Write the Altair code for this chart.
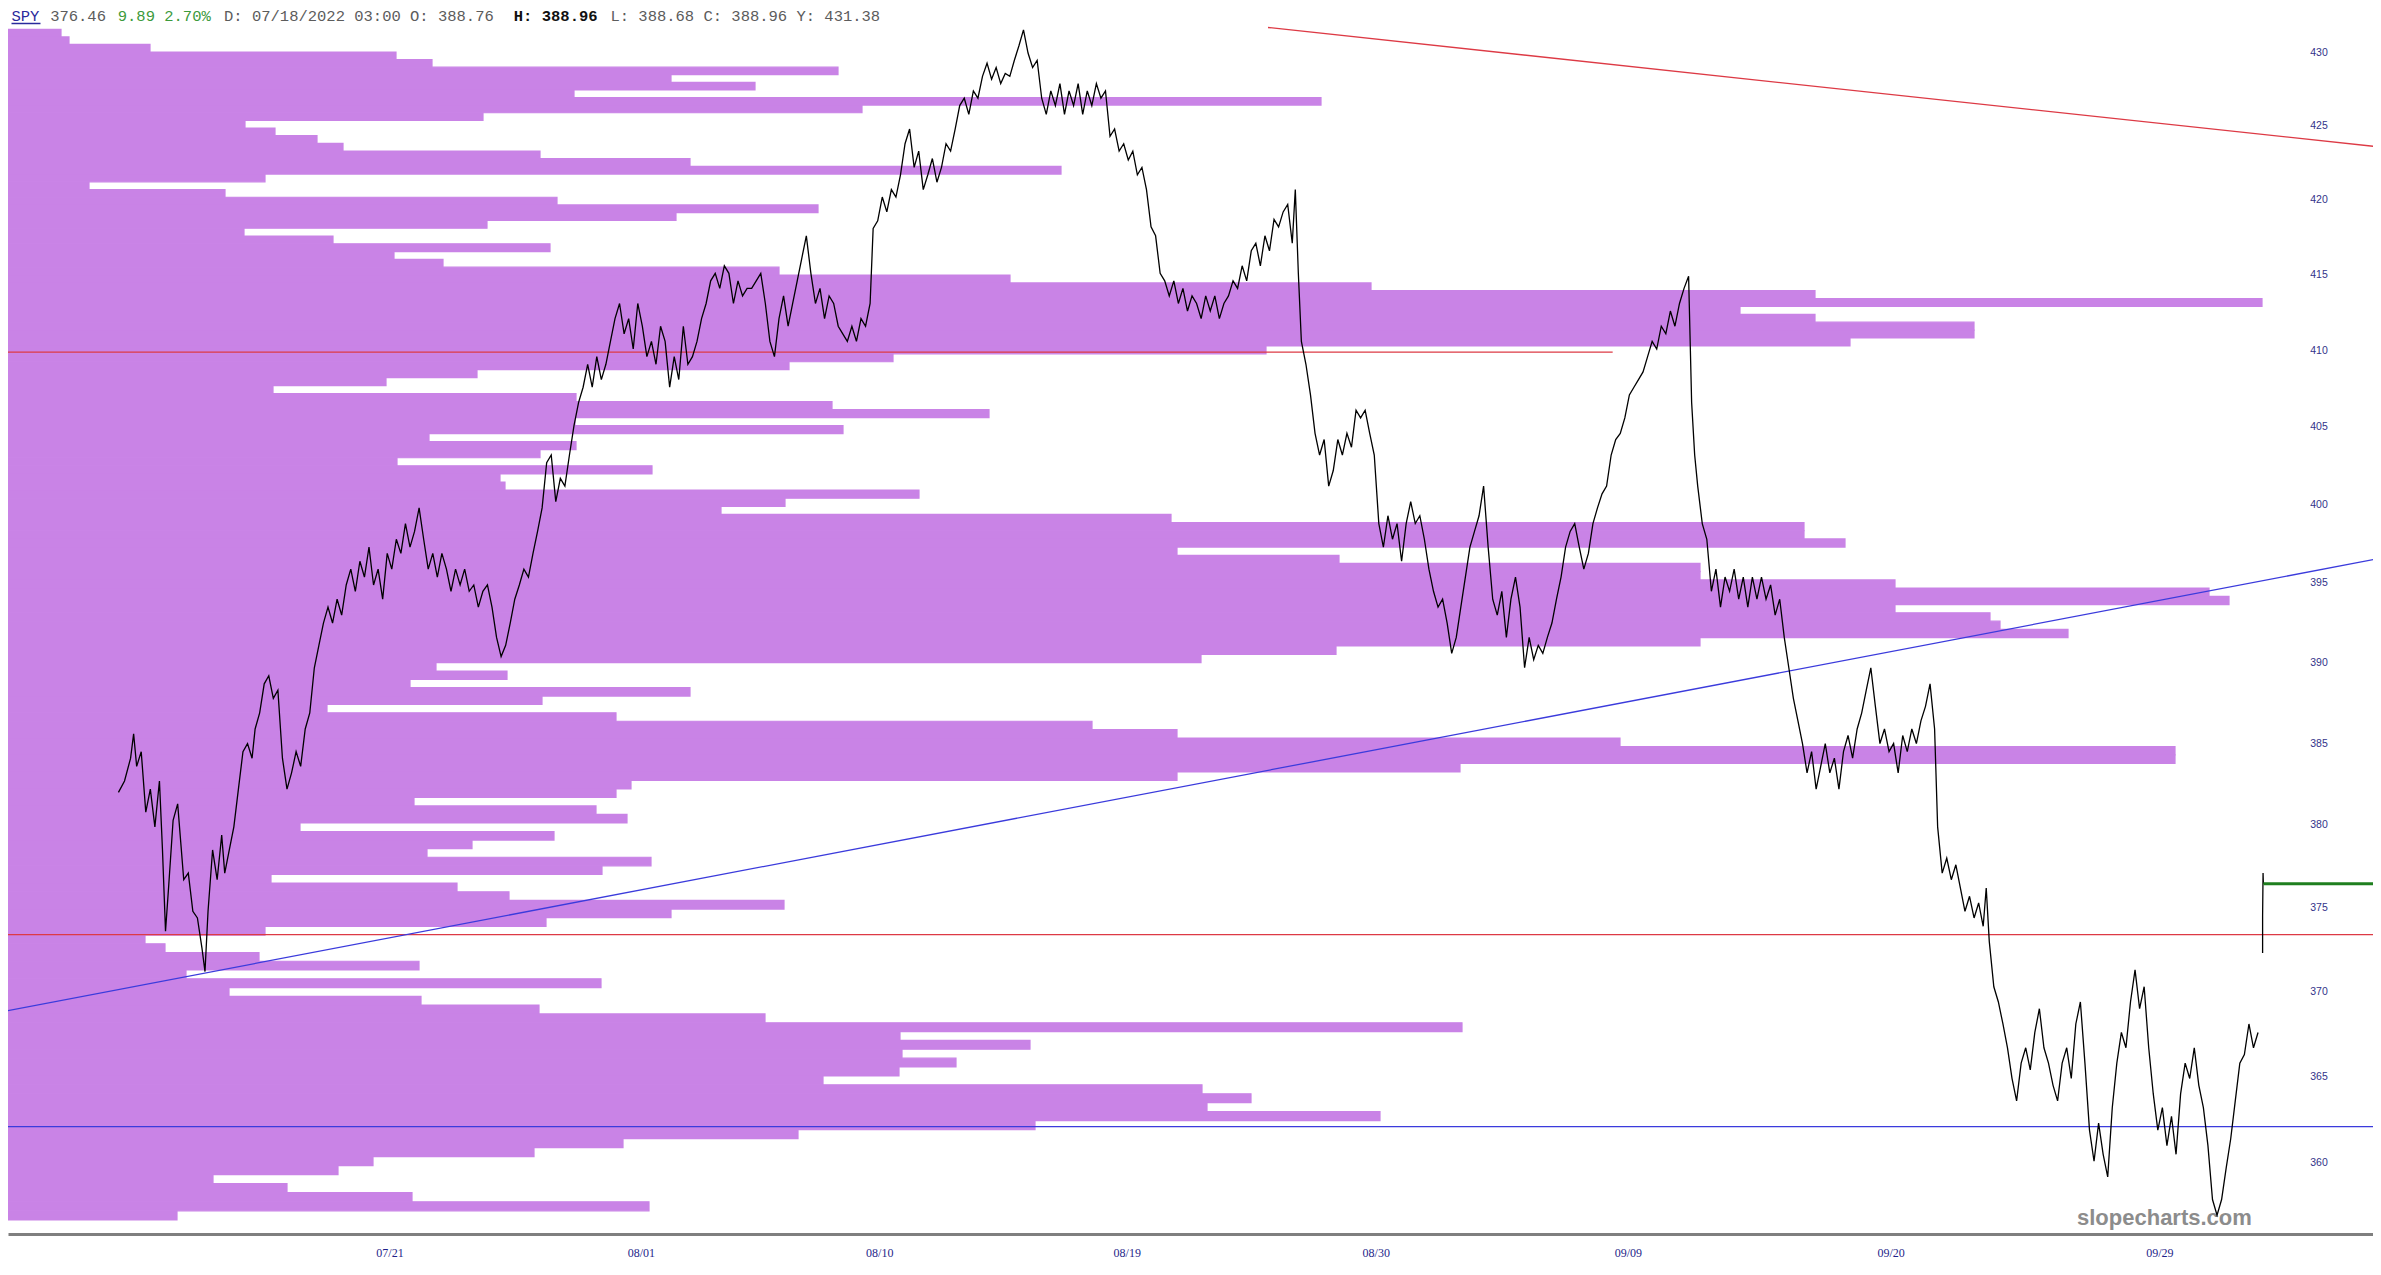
import altair as alt
import pandas as pd
import numpy as np

# ---------------- price series (t = bar position index, p = SPY price) ----------------
tA = [78, 82, 86, 88, 90, 93, 96, 99, 102, 105, 107, 109, 111, 114, 117, 119, 121, 124, 127, 130,
      133, 135, 137, 140, 143, 146, 148, 151, 154, 157, 160, 163, 166, 168, 171, 174, 177, 180, 183, 186,
      189, 192, 195, 198, 201, 204, 207]
pA = [382.0, 382.7, 384.1, 385.6, 383.6, 384.5, 380.8, 382.2, 379.9, 382.7, 378.5, 373.6, 376.2, 380.3, 381.3,
      379.0, 376.7, 377.1, 374.8, 374.4, 372.6, 371.2, 374.8, 378.5, 376.7, 379.4, 377.1, 378.5, 379.9, 382.2,
      384.5, 385.0, 384.1, 385.9, 386.9, 388.7, 389.2, 387.8, 388.3, 384.1, 382.2, 383.2, 384.5, 383.6, 385.9,
      386.9, 389.7]
tB = list(range(210, 574, 3))
pB = [391.1, 392.5, 393.5, 392.5, 394.0, 393.0, 394.9, 395.9, 394.5, 396.4,
      395.4, 397.3, 394.9, 395.9, 394.0, 396.9, 395.9, 397.8, 396.9, 398.8,
      397.3, 398.3, 399.8, 397.8, 395.9, 396.9, 395.4, 396.9, 395.9, 394.5,
      395.9, 394.9, 395.9, 394.5, 394.9, 393.5, 394.5, 394.9, 393.5, 391.6,
      390.4, 391.1, 392.5, 394.0, 394.9, 395.9, 395.4, 396.9, 398.3, 399.8,
      402.7, 403.2, 400.2, 401.7, 401.2, 403.2, 405.1, 406.6, 407.6, 409.1,
      407.6, 409.6, 408.1, 409.1, 410.6, 412.1, 413.1, 411.1, 412.1, 410.1,
      413.1, 411.6, 409.6, 410.6, 409.1, 411.6, 410.6, 407.6, 409.6, 408.1,
      411.6, 409.1, 409.6, 410.6, 412.1, 413.1, 414.6, 415.1, 414.1, 415.6,
      415.1, 413.1, 414.6, 413.6, 414.1, 414.1, 414.6, 415.1, 413.1, 410.6,
      409.6, 412.1, 413.6, 411.6, 413.1, 414.6, 416.1, 417.6, 415.1, 413.1,
      414.1, 412.1, 413.6, 413.1, 411.6, 411.1, 410.6, 411.6, 410.6, 412.1,
      411.6, 413.1]
tC = list(range(575, 852, 3)) + [853, 855, 857]
pC = [418.1, 418.6, 420.2, 419.2, 420.7, 420.2, 421.7, 423.8, 424.8, 422.2,
      423.3, 420.7, 421.7, 422.8, 421.2, 422.2, 423.8, 423.3, 424.8, 426.4,
      426.9, 425.8, 427.4, 426.9, 428.4, 429.3, 428.2, 429.0, 427.9, 428.6,
      428.4, 429.5, 430.5, 431.6, 430.0, 429.0, 429.5, 426.9, 425.8, 427.4,
      426.4, 427.9, 425.8, 427.4, 426.4, 427.9, 425.8, 427.4, 426.4, 427.9,
      426.9, 427.4, 424.3, 424.8, 423.3, 423.8, 422.7, 423.3, 421.7, 422.2,
      420.7, 418.2, 417.6, 415.1, 414.6, 413.6, 414.6, 413.1, 414.1, 412.6,
      413.6, 413.1, 412.1, 413.6, 412.6, 413.6, 412.1, 413.1, 413.6, 414.6,
      414.1, 415.6, 414.6, 416.6, 417.1, 415.6, 417.6, 416.6, 418.7, 418.2,
      419.2, 419.7, 417.1, 420.7, 415.1, 410.6]
tD = list(range(860, 1113, 3)) + [1114, 1116, 1118]
pD = [409.1, 407.1, 404.6, 403.2, 404.2, 401.2, 402.2, 404.2, 403.2, 404.6,
      403.7, 406.1, 405.6, 406.1, 404.6, 403.2, 398.8, 397.3, 399.3, 397.8,
      398.8, 396.4, 398.8, 400.2, 398.8, 399.3, 397.8, 395.9, 394.5, 393.5,
      394.0, 392.5, 390.6, 391.6, 393.5, 395.4, 397.3, 398.3, 399.3, 401.2,
      397.3, 394.0, 393.0, 394.5, 391.6, 394.0, 395.4, 393.5, 389.7, 391.6,
      390.2, 391.1, 390.6, 391.6, 392.5, 394.0, 395.4, 397.3, 398.3, 398.8,
      397.3, 395.9, 396.9, 398.8, 399.8, 400.7, 401.2, 403.2, 404.2, 404.6,
      405.6, 407.1, 407.6, 408.1, 408.6, 409.6, 410.6, 410.1, 411.6, 411.1,
      412.6, 411.6, 413.1, 414.1, 414.9, 406.6, 403.2, 401.2]
tE = list(range(1121, 1275, 3)) + [1276]
pE = [398.8, 397.8, 394.5, 395.9, 393.5, 395.4, 394.5, 395.9, 394.0, 395.4,
      393.5, 395.4, 394.0, 395.4, 394.0, 394.9, 393.0, 394.0, 391.6, 389.7,
      387.8, 386.4, 385.0, 383.2, 384.5, 382.2, 383.6, 385.0, 383.2, 384.1,
      382.2, 384.5, 385.5, 384.1, 385.9, 386.9, 388.3, 389.7, 387.3, 385.0,
      385.9, 384.5, 385.0, 383.2, 385.5, 384.5, 385.9, 385.0, 386.4, 387.3,
      388.7, 385.9, 379.9]
tF = list(range(1279, 1307, 3)) + [1308, 1310]
pF = [377.1, 378.0, 376.7, 377.6, 376.2, 374.8, 375.7, 374.4, 375.3, 373.9, 376.2, 373.0]
tG = list(range(1313, 1488, 3))
pG = [370.3, 369.4, 368.1, 366.7, 364.9, 363.6, 365.8, 366.7, 365.4, 367.6,
      369.0, 366.7, 365.8, 364.5, 363.6, 365.8, 366.7, 364.9, 368.1, 369.4,
      365.8, 361.9, 360.1, 362.3, 360.5, 359.2, 363.2, 365.8, 367.6, 366.7,
      369.4, 371.3, 369.0, 370.3, 366.7, 364.0, 361.9, 363.2, 361.0, 362.7,
      360.5, 364.0, 365.8, 364.9, 366.7, 364.5, 363.2, 361.0, 357.9, 357.0,
      357.9, 359.7, 361.4, 363.6, 365.8, 366.3, 368.1, 366.7, 367.6]
# last (gap-up) bar
tH = [1490, 1490, 1490.3, 1490.5]
pH = [372.3, 374.5, 377.1, 376.46]
LAST_PRICE = 376.46

# ---------------- volume profile (144 equal price bins, top to bottom, relative volume) ----------------
PROF_TOP = 431.63
PROF_BOTTOM = 356.73
vol = [6.1, 6.9, 15.0, 39.6, 43.2, 83.8, 67.1, 75.5, 57.4, 132.1,
       86.2, 48.3, 24.5, 27.5, 31.7, 34.3, 54.0, 69.0, 106.1, 26.5,
       8.9, 22.5, 55.7, 81.8, 67.6, 48.7, 24.4, 33.3, 55.0, 39.4,
       44.3, 77.9, 101.0, 137.1, 181.5, 226.2, 174.0, 181.5, 197.4, 197.4,
       185.0, 126.6, 89.3, 78.9, 47.7, 38.6, 27.3, 57.6, 83.2, 98.9,
       57.5, 84.3, 42.9, 57.6, 54.0, 39.7, 65.2, 50.0, 50.5, 91.9,
       78.5, 72.1, 117.1, 180.4, 180.4, 184.5, 117.7, 133.9, 170.0, 170.0,
       189.5, 220.9, 222.9, 189.5, 199.0, 200.0, 206.8, 170.0, 133.6, 120.1,
       43.6, 50.7, 41.0, 69.0, 54.2, 32.7, 61.6, 109.2, 117.7, 162.0,
       217.5, 217.5, 146.0, 117.7, 63.1, 61.6, 41.4, 59.6, 62.7, 30.0,
       55.4, 47.2, 42.7, 65.1, 60.2, 27.1, 45.7, 50.9, 78.4, 67.1,
       54.6, 26.5, 14.5, 16.5, 25.9, 41.9, 18.6, 60.1, 22.9, 42.1,
       53.9, 76.5, 146.2, 90.0, 103.0, 90.2, 95.6, 89.9, 82.3, 120.2,
       125.1, 120.7, 138.0, 103.5, 79.8, 62.3, 53.4, 37.3, 33.8, 21.3,
       28.7, 41.2, 64.9, 17.7]

# ---------------- drawn lines (t, price) ----------------
red_diag_t, red_diag_p = [835, 1568], [431.76, 423.57]
blue_diag_t, blue_diag_p = [0, 1568], [368.8, 396.6]
red_h1_t, red_h1_p = [0, 1062], [409.9, 409.9]
red_h2_t, red_h2_p = [0, 1568], [373.4, 373.4]
blue_h_t, blue_h_p = [0, 1568], [362.1, 362.1]
green_t, green_p = [1490.5, 1568], [LAST_PRICE, LAST_PRICE]

# ---------------- axes ----------------
date_pos = [256.5, 422, 579, 742, 906, 1072, 1245, 1422]
date_lab = ["07/21", "08/01", "08/10", "08/19", "08/30", "09/09", "09/20", "09/29"]
price_ticks = [360, 365, 370, 375, 380, 385, 390, 395, 400, 405, 410, 415, 420, 425, 430]

header_txt = ["SPY", "376.46", "9.89 2.70%", "D: 07/18/2022 03:00 O: 388.76", "H: 388.96",
              "L: 388.68 C: 388.96 Y: 431.38"]
header_col = ["#2a2a9c", "#5c5c5c", "#3c9a3c", "#5c5c5c", "#111111", "#5c5c5c"]
header_char = [0, 4, 11, 22, 52, 62]
header_bold = [False, False, False, False, True, False]

# ---------------- build ----------------
W, H = 2365, 1226
ysc = alt.Scale(type="log", domain=[355.93, 433.11], nice=False, zero=False)
xsc = alt.Scale(domain=[5.27, 1562.7], nice=False, zero=False)
vsc = alt.Scale(domain=[0.8, 237.3], nice=False, zero=False)

edges = np.linspace(PROF_TOP, PROF_BOTTOM, len(vol) + 1)
vdf = pd.DataFrame({"v0": 0.0, "vol": vol, "hi": edges[:-1], "lo": edges[1:]})

main_t = tA + tB + tC + tD + tE + tF + tG
main_p = pA + pB + pC + pD + pE + pF + pG
n = min(len(main_t), len(main_p))
pdf = pd.DataFrame({"t": main_t[:n] + tH, "p": main_p[:n] + pH,
                    "seg": ["a"] * n + ["b"] * len(tH)})
pdf["i"] = range(len(pdf))

label_expr = ("[" + ",".join("'%s'" % s for s in date_lab) + "][indexof(["
              + ",".join(str(v) for v in date_pos) + "], datum.value)]")
date_axis = alt.Axis(values=date_pos, labelExpr=label_expr, orient="bottom", ticks=False, tickSize=0,
                     grid=False, domain=True, domainColor="#7f7f7f", domainWidth=3,
                     labelFont="Liberation Sans Narrow", labelFontSize=12, labelColor="#1f1f8a",
                     labelPadding=13, labelFlush=False, labelOverlap=False, title=None)

bars = alt.Chart(vdf).mark_rect(color="#c983e6", stroke="#c983e6", strokeWidth=1.2, clip=True).encode(
    x=alt.X("v0:Q", scale=vsc, axis=None), x2="vol:Q",
    y=alt.Y("lo:Q", scale=ysc, axis=None), y2="hi:Q")


def seg_line(ts, ps, color, width):
    d = pd.DataFrame({"t": ts, "p": ps})
    return alt.Chart(d).mark_line(color=color, strokeWidth=width, clip=True).encode(
        x=alt.X("t:Q", scale=xsc, axis=None), y=alt.Y("p:Q", scale=ysc, axis=None))


red_h1 = seg_line(red_h1_t, red_h1_p, "#dd3a45", 1.3)
red_h2 = seg_line(red_h2_t, red_h2_p, "#dd3a45", 1.3)
blue_h = seg_line(blue_h_t, blue_h_p, "#3b3bdc", 1.3)
blue_d = seg_line(blue_diag_t, blue_diag_p, "#3b3bdc", 1.3)
red_d = seg_line(red_diag_t, red_diag_p, "#dd3a45", 1.3)
green = seg_line(green_t, green_p, "#1f7f1f", 3)

wm = alt.Chart(pd.DataFrame({"s": ["slopecharts.com"]})).mark_text(
    align="left", baseline="middle", font="Liberation Sans", fontSize=22, fontWeight="bold",
    color="#8c8c8c").encode(x=alt.value(2069), y=alt.value(1210), text="s:N")

price = alt.Chart(pdf).mark_line(color="black", strokeWidth=1.3, clip=True).encode(
    x=alt.X("t:Q", scale=xsc, axis=date_axis), y=alt.Y("p:Q", scale=ysc, axis=None),
    detail="seg:N", order="i:Q")

ylab = alt.Chart(pd.DataFrame({"v": price_ticks, "s": [str(v) for v in price_ticks]})).mark_text(
    align="center", baseline="middle", font="Liberation Sans", fontSize=10.5, color="#33338a").encode(
    x=alt.value(2311), y=alt.Y("v:Q", scale=ysc, axis=None), text="s:N")

hdf = pd.DataFrame({"s": header_txt, "c": header_col,
                    "px": [3.5 + 9.66 * k for k in header_char], "b": header_bold})
head_n = alt.Chart(hdf[~hdf.b]).mark_text(
    align="left", baseline="middle", font="Liberation Mono", fontSize=15.5).encode(
    x=alt.X("px:Q", scale=None), y=alt.value(7.5), text="s:N", color=alt.Color("c:N", scale=None))
head_b = alt.Chart(hdf[hdf.b]).mark_text(
    align="left", baseline="middle", font="Liberation Mono", fontSize=15.5, fontWeight="bold").encode(
    x=alt.X("px:Q", scale=None), y=alt.value(7.5), text="s:N", color=alt.Color("c:N", scale=None))
underline = alt.Chart(pd.DataFrame({"a": [0]})).mark_rule(color="#2a2a9c", strokeWidth=1.5).encode(
    x=alt.value(3.5), x2=alt.value(32.5), y=alt.value(15.5))

chart = alt.layer(bars, red_h1, red_h2, blue_h, blue_d, red_d, wm, price, green, ylab,
                  head_n, head_b, underline).resolve_scale(x="independent").properties(
    width=W, height=H, padding={"left": 0, "top": 0, "right": 0, "bottom": 32},
    autosize=alt.AutoSizeParams(type="none"), background="white"
).configure_view(stroke=None)

chart.save("out.html", embed_options={"renderer": "svg", "actions": False})
